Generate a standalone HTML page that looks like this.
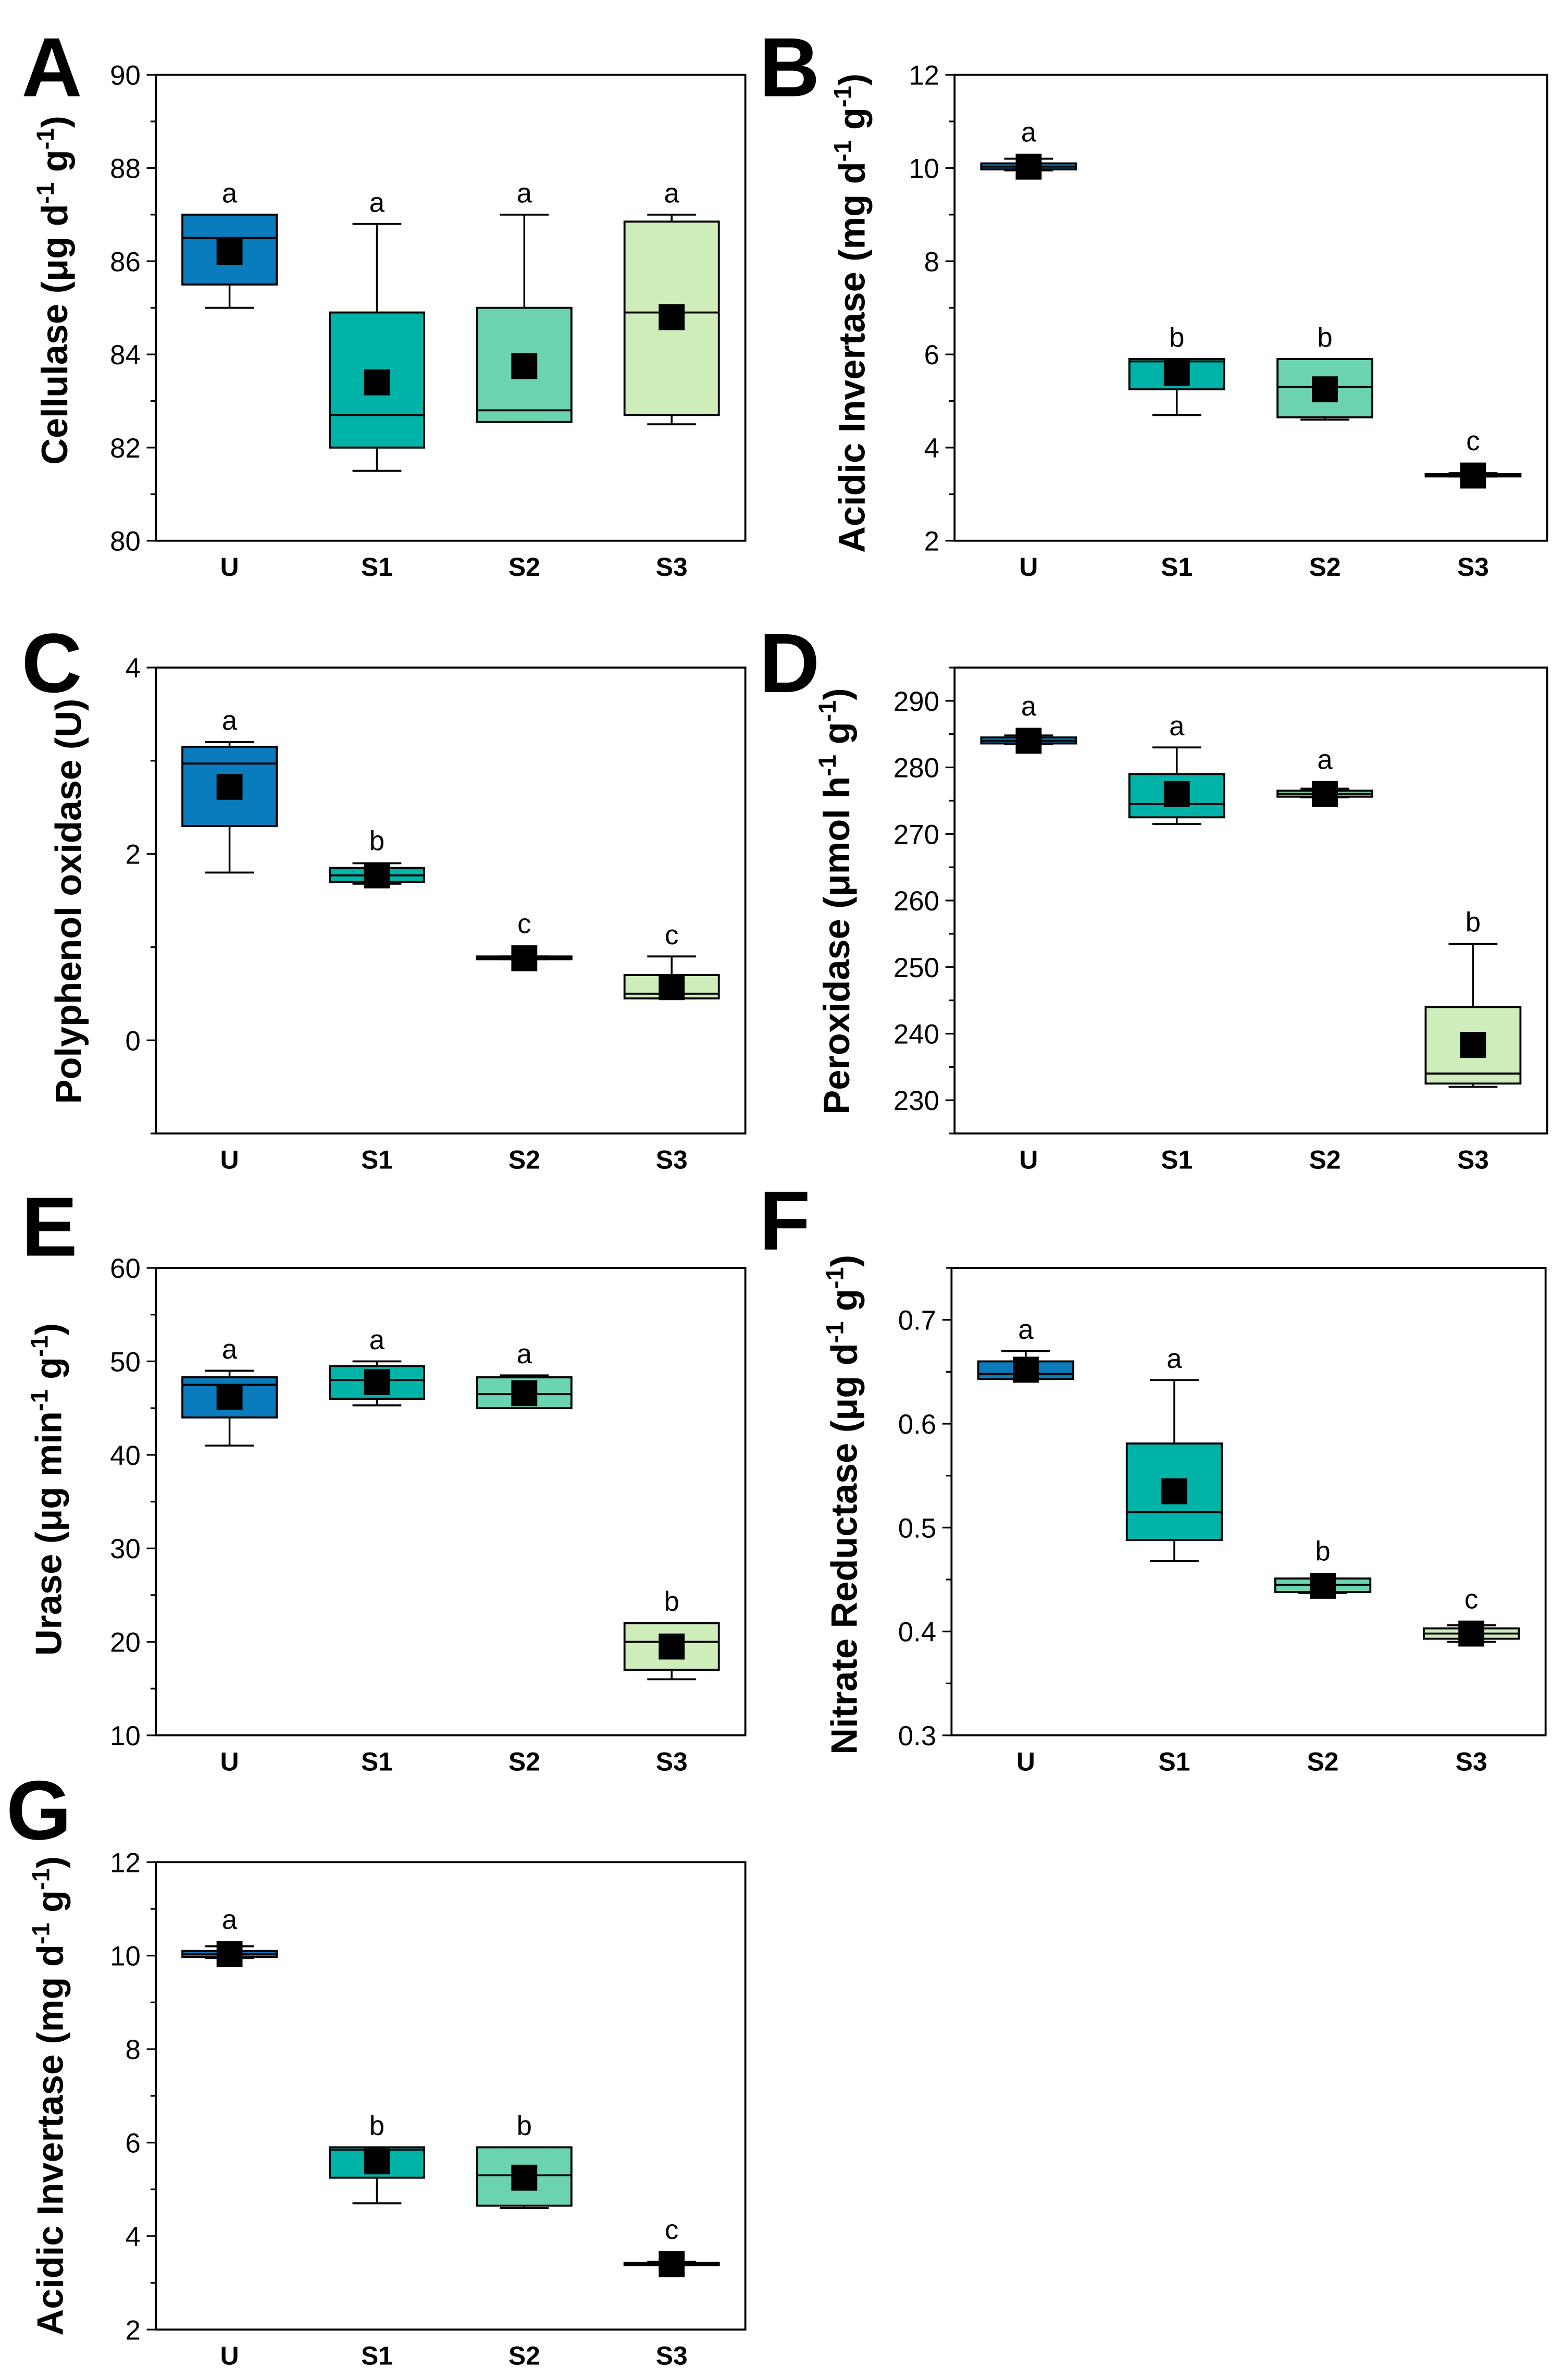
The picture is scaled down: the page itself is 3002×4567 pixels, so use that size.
<!DOCTYPE html>
<html><head><meta charset="utf-8">
<style>
html,body{margin:0;padding:0;background:#fff;}
svg{display:block;}
text{font-family:"Liberation Sans",Arial,sans-serif;}
</style></head>
<body>
<svg id="fig" width="3002" height="4567" viewBox="0 0 1024 1558" xmlns="http://www.w3.org/2000/svg"></svg>
<script>
const categories = ["U","S1","S2","S3"];
const colors = ["#0a7bbd","#00b3a9","#6cd3b2","#cfedbb"];

// Panel A - Cellulase
const aLo = [85, 81.5, 82.55, 82.5];
const aQ1 = [85.5, 82, 82.55, 82.7];
const aMed = [86.5, 82.7, 82.8, 84.9];
const aQ3 = [87, 84.9, 85, 86.85];
const aHi = [87, 86.8, 87, 87];
const aMean = [86.2, 83.4, 83.75, 84.8];
const aLetters = ["a","a","a","a"];
const aTicks = [80,82,84,86,88,90];

// Panel B - Acidic invertase
const bLo = [9.95, 4.7, 4.6, 3.38];
const bQ1 = [9.97, 5.25, 4.65, 3.38];
const bMed = [10.03, 5.85, 5.3, 3.4];
const bQ3 = [10.1, 5.9, 5.9, 3.43];
const bHi = [10.2, 5.9, 5.9, 3.45];
const bMean = [10.03, 5.6, 5.25, 3.4];
const bLetters = ["a","b","b","c"];
const bTicks = [2,4,6,8,10,12];

// Panel C - Polyphenol oxidase
const cLo = [1.8, 1.68, 0.87, 0.45];
const cQ1 = [2.3, 1.7, 0.87, 0.45];
const cMed = [2.97, 1.77, 0.88, 0.5];
const cQ3 = [3.15, 1.85, 0.9, 0.7];
const cHi = [3.2, 1.9, 0.9, 0.9];
const cMean = [2.72, 1.77, 0.88, 0.57];
const cLetters = ["a","b","c","c"];
const cTicks = [0,2,4];

// Panel D - Peroxidase
const dLo = [283.5, 271.5, 275.5, 232];
const dQ1 = [283.6, 272.5, 275.6, 232.5];
const dMed = [284, 274.5, 276, 234];
const dQ3 = [284.5, 279, 276.5, 244];
const dHi = [284.8, 283, 276.8, 253.5];
const dMean = [284, 276, 276, 238.3];
const dLetters = ["a","a","a","b"];
const dTicks = [230,240,250,260,270,280,290];

// Panel E - Urase
const eLo = [41, 45.3, 45, 16];
const eQ1 = [44, 46, 45, 17];
const eMed = [47.5, 48, 46.5, 20];
const eQ3 = [48.3, 49.5, 48.3, 22];
const eHi = [49, 50, 48.5, 22];
const eMean = [46.2, 47.8, 46.6, 19.5];
const eLetters = ["a","a","a","b"];
const eTicks = [10,20,30,40,50,60];

// Panel F - Nitrate reductase
const fLo = [0.643, 0.468, 0.437, 0.39];
const fQ1 = [0.643, 0.488, 0.438, 0.393];
const fMed = [0.648, 0.515, 0.445, 0.398];
const fQ3 = [0.66, 0.581, 0.451, 0.403];
const fHi = [0.67, 0.642, 0.451, 0.406];
const fMean = [0.652, 0.535, 0.444, 0.398];
const fLetters = ["a","a","b","c"];
const fTicks = [0.3,0.4,0.5,0.6,0.7];

const NS = "http://www.w3.org/2000/svg";
const svg = document.getElementById("fig");
function mk(tag, attrs, parent){
  const e = document.createElementNS(NS, tag);
  for (const k in attrs) e.setAttribute(k, attrs[k]);
  (parent||svg).appendChild(e);
  return e;
}

function panel(o){
  const g = mk("g", {});
  
  
  const L=o.x0, R=o.x1, T=o.y0, B=o.y1;
  const ys = v => B - (v - o.ymin) / (o.ymax - o.ymin) * (B - T);
  const unit = (R - L) / 4;
  const xs = i => L + unit * (i + 0.5);
  const pl = mk("text", {x:o.lx, y:o.ly, "font-size":55, "font-weight":"bold", fill:"#000"}, g);
  pl.textContent = o.letter;
  
  
  const fr = mk("rect", {x:L, y:T, width:R-L, height:B-T, fill:"none", stroke:"#000", "stroke-width":1.3}, g);
  
  
  for (let v = o.ymin; v <= o.ymax + 1e-9; v += o.minor) {
    const y = ys(v);
    const isMajor = o.ticks.some(t => Math.abs(t - v) < 1e-6);
    const tk = mk("line", {x1:L - (isMajor?6:3.5), x2:L, y1:y, y2:y, stroke:"#000", "stroke-width":1.1}, g);
    
    
  }
  o.ticks.forEach(t => {
    const tl = mk("text", {x:L - 10, y:ys(t) + 6.5, "font-size":18, "text-anchor":"end", fill:"#000"}, g);
    tl.textContent = o.fmt ? o.fmt(t) : String(t);
    
    
  });
  const tt = mk("text", {x:0, y:0, "font-size":24, "font-weight":"bold", "text-anchor":"middle",
     transform:`translate(${o.tx},${o.ty}) rotate(-90)`}, g);
  
  
  o.title.forEach(p => {
    const s = mk("tspan", {}, tt);
    if (p.sup) { s.setAttribute("baseline-shift","super"); s.setAttribute("font-size","16"); }
    s.textContent = p.t;
  });
  categories.forEach((c, i) => {
    const cl = mk("text", {x:xs(i), y:B + 23, "font-size":17, "font-weight":"bold", "text-anchor":"middle"}, g);
    cl.textContent = c;
    
    
  });
  const bw = unit * 0.64, cw = 32, ms = 17;
  categories.forEach((c, i) => {
    const cx = xs(i);
    const bg = mk("g", {}, g);
    
    
    const yl = ys(o.lo[i]), yh = ys(o.hi[i]), q1 = ys(o.q1[i]), q3 = ys(o.q3[i]);
    const ym = ys(o.mean[i]);
    mk("line", {x1:cx, x2:cx, y1:yh, y2:q3, stroke:"#000", "stroke-width":1.2}, bg);
    mk("line", {x1:cx, x2:cx, y1:q1, y2:yl, stroke:"#000", "stroke-width":1.2}, bg);
    mk("line", {x1:cx-cw/2, x2:cx+cw/2, y1:yh, y2:yh, stroke:"#000", "stroke-width":1.3}, bg);
    mk("line", {x1:cx-cw/2, x2:cx+cw/2, y1:yl, y2:yl, stroke:"#000", "stroke-width":1.3}, bg);
    mk("rect", {x:cx-bw/2, y:q3, width:bw, height:Math.max(q1-q3,1.5), fill:colors[i], stroke:"#000", "stroke-width":1.3}, bg);
    mk("line", {x1:cx-bw/2, x2:cx+bw/2, y1:ys(o.med[i]), y2:ys(o.med[i]), stroke:"#000", "stroke-width":1.3}, bg);
    const mean = mk("rect", {x:cx-ms/2, y:ym-ms/2, width:ms, height:ms, fill:"#000"}, bg);
    
    
    const top = Math.min(yh, ym - ms/2);
    const lt = mk("text", {x:cx, y:top - 8, "font-size":18, "text-anchor":"middle"}, bg);
    lt.textContent = o.letters[i];
    
    
  });
}

const inv = [{t:"Acidic Invertase (mg d"},{t:"-1",sup:1},{t:" g"},{t:"-1",sup:1},{t:")"}];

panel({letter:"A", lx:14, ly:63, x0:102, x1:488, y0:49, y1:354, ymin:80, ymax:90, minor:1, ticks:aTicks,
  tx:44, ty:190, title:[{t:"Cellulase (\u03bcg d"},{t:"-1",sup:1},{t:" g"},{t:"-1",sup:1},{t:")"}],
  lo:aLo,q1:aQ1,med:aMed,q3:aQ3,hi:aHi,mean:aMean,letters:aLetters});
panel({letter:"B", lx:497, ly:63, x0:625, x1:1013, y0:49, y1:354, ymin:2, ymax:12, minor:1, ticks:bTicks,
  tx:566, ty:205, title:inv,
  lo:bLo,q1:bQ1,med:bMed,q3:bQ3,hi:bHi,mean:bMean,letters:bLetters});
panel({letter:"C", lx:14, ly:453, x0:102, x1:488, y0:437, y1:742, ymin:-1, ymax:4, minor:1, ticks:cTicks,
  tx:53, ty:590, title:[{t:"Polyphenol oxidase (U)"}],
  lo:cLo,q1:cQ1,med:cMed,q3:cQ3,hi:cHi,mean:cMean,letters:cLetters});
panel({letter:"D", lx:497, ly:453, x0:625, x1:1013, y0:437, y1:742, ymin:225, ymax:295, minor:5, ticks:dTicks,
  tx:556, ty:590, title:[{t:"Peroxidase (\u03bcmol h"},{t:"-1",sup:1},{t:" g"},{t:"-1",sup:1},{t:")"}],
  lo:dLo,q1:dQ1,med:dMed,q3:dQ3,hi:dHi,mean:dMean,letters:dLetters});
panel({letter:"E", lx:14, ly:822, x0:102, x1:488, y0:830, y1:1136, ymin:10, ymax:60, minor:5, ticks:eTicks,
  tx:40, ty:975, title:[{t:"Urase (\u03bcg min"},{t:"-1",sup:1},{t:" g"},{t:"-1",sup:1},{t:")"}],
  lo:eLo,q1:eQ1,med:eMed,q3:eQ3,hi:eHi,mean:eMean,letters:eLetters});
panel({letter:"F", lx:497, ly:818, x0:623, x1:1012, y0:830, y1:1136, ymin:0.3, ymax:0.75, minor:0.05, ticks:fTicks,
  tx:561, ty:985, fmt:v=>v.toFixed(1), title:[{t:"Nitrate Reductase (\u03bcg d"},{t:"-1",sup:1},{t:" g"},{t:"-1",sup:1},{t:")"}],
  lo:fLo,q1:fQ1,med:fMed,q3:fQ3,hi:fHi,mean:fMean,letters:fLetters});
panel({letter:"G", lx:4, ly:1204, x0:102, x1:488, y0:1219, y1:1525, ymin:2, ymax:12, minor:1, ticks:bTicks,
  tx:41, ty:1372, title:inv,
  lo:bLo,q1:bQ1,med:bMed,q3:bQ3,hi:bHi,mean:bMean,letters:bLetters});
</script>
</body></html>
